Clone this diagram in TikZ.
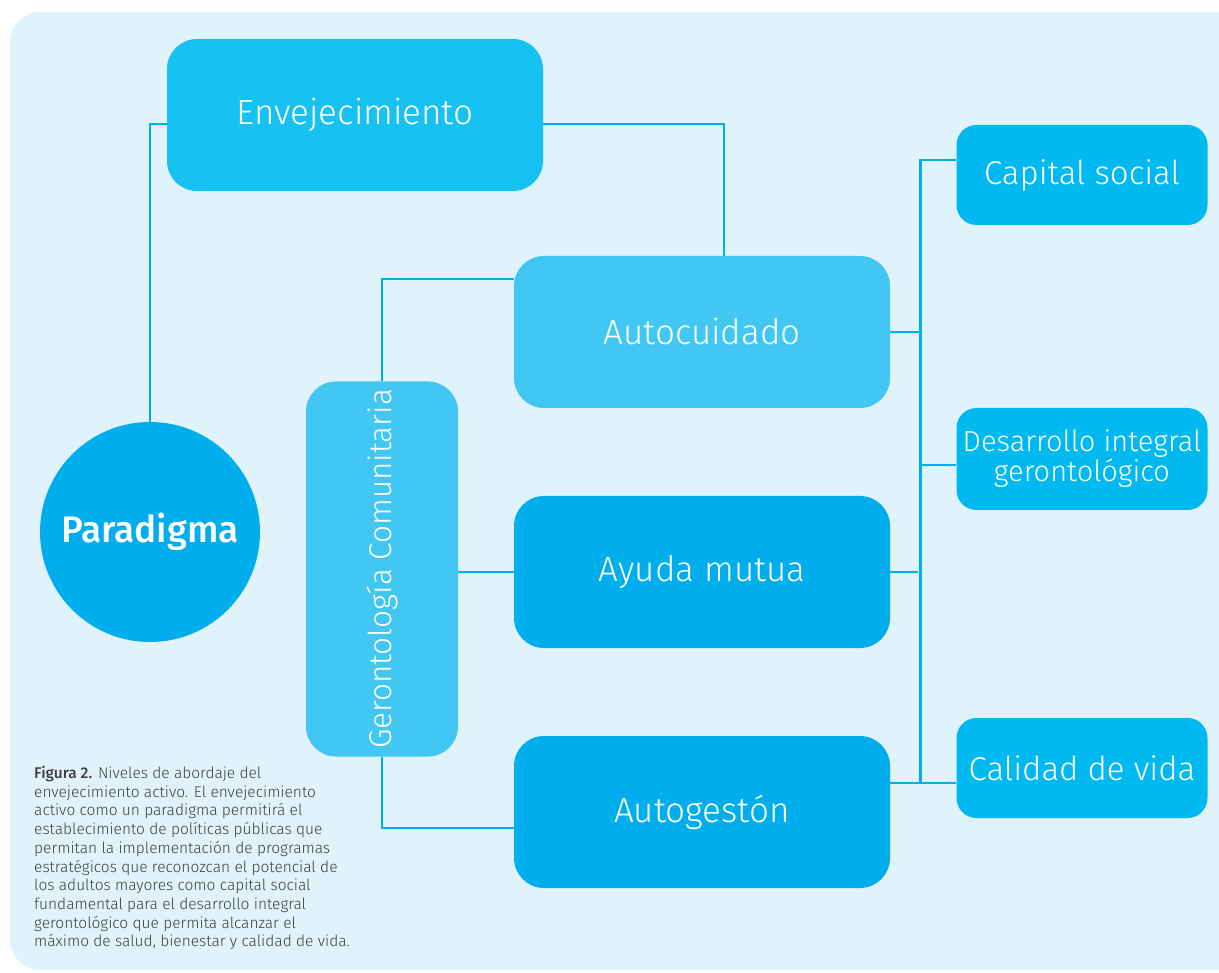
\documentclass[tikz,border=0pt]{standalone}
\usepackage{fontspec}
\setmainfont{Fira Sans}[UprightFont=* Light, BoldFont=* Medium]
\usepackage{xcolor}
\usepackage{tikz}
\usetikzlibrary{positioning, calc}

\definecolor{fondo}{HTML}{E0F2FA}
\definecolor{cielo}{HTML}{17C1F1}
\definecolor{claro}{HTML}{42C7F3}
\definecolor{fuerte}{HTML}{00AEEE}
\definecolor{lateral}{HTML}{00B9F0}
\definecolor{gristexto}{HTML}{404040}

\tikzset{
  caja/.style={rounded corners=30pt, minimum width=376pt, minimum height=152pt,
               inner sep=0pt, text=white, font=\fontsize{35}{40}\selectfont},
  cajita/.style={rounded corners=20pt, fill=lateral, minimum width=251pt,
                 minimum height=100pt, inner sep=0pt, text=white, align=center},
  enlace/.style={draw=fuerte, line width=2.4pt}
}

\begin{document}
\begin{tikzpicture}[x=1pt,y=-1pt]
\useasboundingbox (0,0) rectangle (1219,973);
\fill[fondo, rounded corners=30pt] (10,12) rectangle (1250,970);

% niveles centrales
\node[caja, fill=cielo] (env) at (355,115) {Envejecimiento};
\node[caja, fill=claro] (auto) at (702,332) {Autocuidado};
\node[caja, fill=fuerte] (ayuda) at (702,572) {Ayuda mutua};
\node[caja, fill=fuerte] (autog) at (702,812) {Autogestón};
\node[caja, fill=claro, rotate=90, minimum width=375pt, minimum height=152pt,
      font=\fontsize{31.5}{36}\selectfont] (geront) at (382,569) {Gerontología Comunitaria};
\node[circle, fill=fuerte, minimum size=220pt, inner sep=0pt, text=white,
      font=\fontsize{37}{42}\selectfont\bfseries] (para) at (150,532) {Paradigma};

% resultados
\node[cajita, font=\fontsize{33}{38}\selectfont] (cap) at (1082,175) {Capital social};
\node[cajita, minimum height=102pt, font=\fontsize{29}{30}\selectfont] (des) at (1082,459)
  {Desarrollo integral\\gerontológico};
\node[cajita, font=\fontsize{33}{38}\selectfont] (cal) at (1082,768) {Calidad de vida};

% conectores
\draw[enlace] ([yshift=-9pt]env.west) -| (para.north);
\draw[enlace] ([yshift=-9pt]env.east) -| ([xshift=22pt]auto.north);
\draw[enlace] (geront.east) |- ([yshift=53pt]auto.west);
\draw[enlace] (ayuda.west -| geront.south) -- (ayuda.west);
\draw[enlace] (geront.west) |- ([yshift=-16pt]autog.west);

\coordinate (arriba) at ([yshift=15pt]cap.west);
\coordinate (abajo) at ([yshift=-15pt]cal.west);
\coordinate (bus) at ([xshift=-36pt]cap.west);
\draw[enlace] (arriba) -- (arriba -| bus) -- (abajo -| bus);
\draw[enlace] (autog.east |- abajo) -- (abajo);
\draw[enlace] ([yshift=-6pt]des.west) -- ++(-36,0);
\draw[enlace] (auto.east) -- ++(31,0);
\draw[enlace] (ayuda.east) -- ++(28,0);

% pie de figura
\node[anchor=north west, align=left, inner sep=0pt, text=gristexto,
      font=\fontsize{15.5}{18.7}\selectfont] (pie) at (34,766)
  {\textbf{Figura 2.} Niveles de abordaje del\\
   envejecimiento activo. El envejecimiento\\
   activo como un paradigma permitirá el\\
   establecimiento de políticas públicas que\\
   permitan la implementación de programas\\
   estratégicos que reconozcan el potencial de\\
   los adultos mayores como capital social\\
   fundamental para el desarrollo integral\\
   gerontológico que permita alcanzar el\\
   máximo de salud, bienestar y calidad de vida.};
\end{tikzpicture}
\end{document}
